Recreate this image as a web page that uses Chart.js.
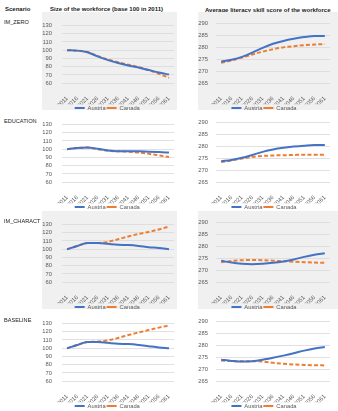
<!DOCTYPE html>
<html>
<head>
<meta charset="utf-8">
<script src="https://cdn.jsdelivr.net/npm/chart.js@4.4.1/dist/chart.umd.min.js"></script>
<style>
  html, body { margin: 0; padding: 0; background: #ffffff; }
  body { width: 338px; height: 411px; position: relative; overflow: hidden; font-family: "Liberation Sans", Arial, sans-serif; }
  .t { position: absolute; font-size: 5.6px; color: #1a1a1a; white-space: nowrap; }
  .b { font-weight: bold; font-size: 6px; }
  .bg { position: absolute; }
  canvas { position: absolute; }
</style>
</head>
<body>
<script>
// ---------- DATA ----------
const years = ['2011','2016','2021','2026','2031','2036','2041','2046','2051','2056','2061'];
const scenarios = ['IM_ZERO','EDUCATION','IM_CHARACT','BASELINE'];
const seriesNames = ['Austria','Canada'];
const sizeTicks = [60, 70, 80, 90, 100, 110, 120, 130];
const scoreTicks = [265, 270, 275, 280, 285, 290];

// Size of the workforce (base 100 in 2011)
const sizeImZeroAustria    = [100, 99.5, 97.5, 92.5, 88, 84.5, 81.5, 79, 76, 73, 70.5];
const sizeImZeroCanada     = [100, 99.5, 97.8, 93, 88.8, 85.5, 82.5, 79.5, 76, 71.5, 66.5];
const sizeEducationAustria = [100, 101.5, 102, 100.5, 98.5, 97.5, 97.5, 97.5, 97, 96.5, 96];
const sizeEducationCanada  = [100, 101.5, 102, 100, 98, 97.5, 97, 96, 94.5, 92.5, 90.5];
const sizeCharactAustria   = [100, 104, 107.5, 107.5, 106.5, 105.5, 105, 104, 102.5, 101.5, 100];
const sizeCharactCanada    = [100, 104, 107.5, 107.5, 109, 112, 115.5, 118.5, 121, 124, 127.5];
const sizeBaselineAustria  = [100, 104, 107.5, 107.5, 106.5, 105.5, 105, 104, 102.5, 101, 100];
const sizeBaselineCanada   = [100, 104, 107.5, 108, 109.5, 112.5, 116, 119, 122, 125, 127.5];

// Average literacy skill score of the workforce
const scoreImZeroAustria    = [274, 274.8, 276, 277.8, 279.8, 281.5, 282.7, 283.6, 284.3, 284.8, 284.8];
const scoreImZeroCanada     = [273.5, 274.5, 275.7, 277, 278.2, 279.2, 280, 280.5, 280.9, 281.2, 281.4];
const scoreEducationAustria = [273.8, 274.3, 275.2, 276.4, 277.7, 278.7, 279.4, 279.9, 280.3, 280.6, 280.6];
const scoreEducationCanada  = [273.4, 274.1, 274.9, 275.6, 276, 276.2, 276.3, 276.4, 276.5, 276.5, 276.5];
const scoreCharactAustria   = [274, 273.2, 272.7, 272.5, 272.7, 273.1, 273.7, 274.5, 275.6, 276.5, 277.1];
const scoreCharactCanada    = [273.4, 273.9, 274.2, 274.3, 274.2, 274, 273.8, 273.6, 273.4, 273.2, 273.1];
const scoreBaselineAustria  = [274, 273.5, 273.2, 273.4, 274, 274.8, 275.7, 276.7, 277.8, 278.7, 279.3];
const scoreBaselineCanada   = [273.7, 273.4, 273.3, 273.4, 273.2, 272.7, 272.3, 272, 271.8, 271.7, 271.6];

const sizeAustria = [sizeImZeroAustria, sizeEducationAustria, sizeCharactAustria, sizeBaselineAustria];
const sizeCanada  = [sizeImZeroCanada, sizeEducationCanada, sizeCharactCanada, sizeBaselineCanada];
const scoreAustria = [scoreImZeroAustria, scoreEducationAustria, scoreCharactAustria, scoreBaselineAustria];
const scoreCanada  = [scoreImZeroCanada, scoreEducationCanada, scoreCharactCanada, scoreBaselineCanada];

// ---------- LAYOUT ----------
const BLUE = '#4472C4', ORANGE = '#ED7D31', TXT = '#595959', GRID = '#d9d9d9';
const rowTops = [12, 111, 211, 310];
const rowBg = ['#f0f0f0', '#ffffff', '#f0f0f0', '#ffffff'];
const CH = 109;

function addText(txt, x, y, bold) {
  const d = document.createElement('div');
  d.className = 't' + (bold ? ' b' : '');
  d.textContent = txt;
  d.style.left = x + 'px';
  d.style.top = y + 'px';
  document.body.appendChild(d);
  return d;
}
function addBg(x, y, w, h, c) {
  const d = document.createElement('div');
  d.className = 'bg';
  d.style.left = x + 'px'; d.style.top = y + 'px';
  d.style.width = w + 'px'; d.style.height = h + 'px';
  d.style.background = c;
  document.body.appendChild(d);
}

addText('Scenario', 5, 6, true);
addText('Size of the workforce (base 100 in 2011)', 50, 6, true);
addText('Average literacy skill score of the workforce', 205, 7, true);

rowTops.forEach((t, i) => {
  addBg(42, t, 135, 98, rowBg[i]);
  addBg(198, t, 140, 98, rowBg[i]);
});

Chart.defaults.font.family = '"Liberation Sans", Arial, sans-serif';
Chart.defaults.color = TXT;

function makeChart(x, y, w, opts) {
  const c = document.createElement('canvas');
  c.width = w; c.height = CH;
  c.style.left = x + 'px'; c.style.top = y + 'px';
  c.style.width = w + 'px'; c.style.height = CH + 'px';
  document.body.appendChild(c);
  new Chart(c.getContext('2d'), {
    type: 'line',
    data: {
      labels: years,
      datasets: [
        { label: seriesNames[0], data: opts.a, borderColor: BLUE, backgroundColor: BLUE, borderWidth: 2,
          pointRadius: 0, pointHoverRadius: 0, pointStyle: 'line', cubicInterpolationMode: 'monotone', fill: false },
        { label: seriesNames[1], data: opts.c, borderColor: ORANGE, backgroundColor: ORANGE, borderWidth: 2,
          borderDash: [4, 2.2], pointRadius: 0, pointHoverRadius: 0, pointStyle: 'line', cubicInterpolationMode: 'monotone', fill: false }
      ]
    },
    options: {
      responsive: false, animation: false, devicePixelRatio: 1,
      layout: { padding: { top: 7.5, right: opts.padR, left: 0, bottom: 0 } },
      plugins: {
        tooltip: { enabled: false },
        legend: {
          position: 'bottom',
          labels: { usePointStyle: true, pointStyleWidth: 10, boxHeight: 5, padding: 1,
                    font: { size: 5.8 }, color: TXT }
        }
      },
      scales: {
        x: {
          offset: true,
          grid: { display: false },
          border: { display: false },
          ticks: { minRotation: 45, maxRotation: 45, autoSkip: false, padding: 4, font: { size: 5.8 }, color: TXT },
          afterFit: s => { s.height = 21; }
        },
        y: {
          min: opts.ticks[0], max: opts.ticks[opts.ticks.length - 1],
          afterBuildTicks: s => { s.ticks = opts.ticks.map(v => ({ value: v })); },
          grid: { color: GRID, lineWidth: 0.8, drawTicks: false },
          border: { display: false },
          ticks: { autoSkip: false, padding: opts.tickPad, font: { size: 5.8 }, color: TXT },
          afterFit: s => { s.width = opts.yW; }
        }
      }
    }
  });
}

scenarios.forEach((name, i) => {
  addText(name, 4, rowTops[i] + 7, false);
  makeChart(38, rowTops[i], 140, { a: sizeAustria[i], c: sizeCanada[i], ticks: sizeTicks, yW: 24, tickPad: 10, padR: 1.5 });
  makeChart(198, rowTops[i], 140, { a: scoreAustria[i], c: scoreCanada[i], ticks: scoreTicks, yW: 18, tickPad: 8, padR: 8 });
});
</script>
</body>
</html>
